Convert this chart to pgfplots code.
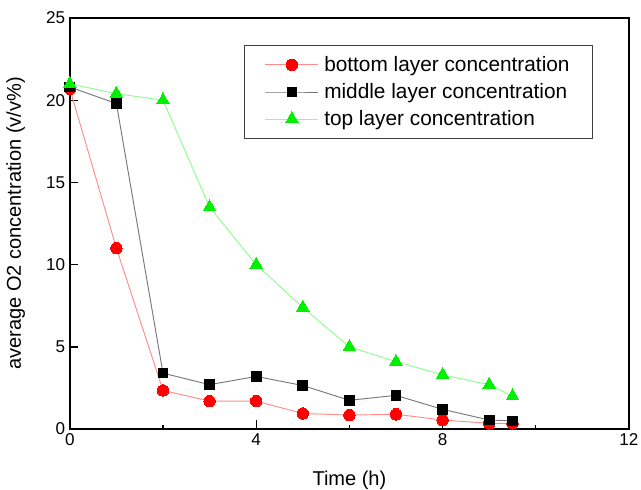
\documentclass[border=0pt]{standalone}
\usepackage{fontspec}
\setmainfont{Liberation Sans}
\usepackage{pgfplots}
\pgfplotsset{compat=1.18}
\definecolor{lred}{RGB}{255,140,140}
\definecolor{lgreen}{RGB}{140,255,140}
\definecolor{mgray}{RGB}{120,120,120}
\definecolor{mgreen}{RGB}{0,240,0}

\begin{document}
\begin{tikzpicture}
\begin{axis}[
    name=ax,
    width=419pt, height=308pt, scale only axis,
    xmin=0, xmax=12, ymin=0, ymax=25,
    xtick={0,4,8,12}, minor xtick={2,6,10},
    ytick={0,5,10,15,20,25},
    tick align=inside, major tick length=6.5pt, minor tick length=3pt,
    xtick pos=bottom, ytick pos=left,
    ticklabel style={font=\fontsize{12.8}{14}\selectfont},
    xlabel={Time (h)}, ylabel={average O2 concentration (v/v\%)},
    label style={font=\fontsize{15}{17}\selectfont},
    xlabel style={yshift=-12pt},
    ylabel style={yshift=9pt},
    /pgf/number format/assume math mode=true,
    axis line style={line width=1.1pt}, tick style={line width=1pt,black},
    legend style={at={(0.312,0.934)},anchor=north west,draw=black!75,line width=0.8pt,
                  font=\fontsize{15.6}{18.5}\selectfont, inner xsep=15pt, inner ysep=6pt,
                  row sep=3.5pt,
                  /tikz/every even column/.append style={column sep=0pt},
                  /tikz/every odd column/.append style={column sep=2pt}},
    legend cell align=left,
    legend image code/.code={%
      \draw[mark repeat=2,mark phase=2,#1] plot coordinates {(0cm,0cm) (0.7cm,0cm) (1.4cm,0cm)};},
    clip=false,
]
  \addplot[lred,line width=0.7pt,mark=*,mark size=4.3pt,mark options={fill=red,draw=red,line width=0pt}] coordinates {
    (0,20.7) (1,11.0) (2,2.35) (3,1.7) (4,1.7) (5,0.95) (6,0.85) (7,0.9) (8,0.55) (9,0.35) (9.5,0.35)};
  \addplot[mgray,line width=0.7pt,mark=square*,mark size=3.6pt,mark options={fill=black,draw=black,line width=0pt}] coordinates {
    (0,20.8) (1,19.8) (2,3.4) (3,2.7) (4,3.2) (5,2.65) (6,1.75) (7,2.05) (8,1.2) (9,0.55) (9.5,0.5)};
  \addplot[lgreen,line width=0.7pt,mark=triangle*,mark size=5.5pt,mark options={fill=mgreen,draw=mgreen,line width=0pt}] coordinates {
    (0,21.0) (1,20.4) (2,20.0) (3,13.5) (4,10.0) (5,7.4) (6,5.0) (7,4.1) (8,3.3) (9,2.7) (9.5,2.0)};
  \legend{bottom layer concentration, middle layer concentration, top layer concentration}
\end{axis}
\pgfresetboundingbox
\path (ax.south west) ++(-52.3pt,-45pt) coordinate (bbl);
\path (ax.north east) ++(9pt,13.5pt) coordinate (btr);
\path[use as bounding box] (bbl) rectangle (btr);
\end{tikzpicture}
\end{document}
